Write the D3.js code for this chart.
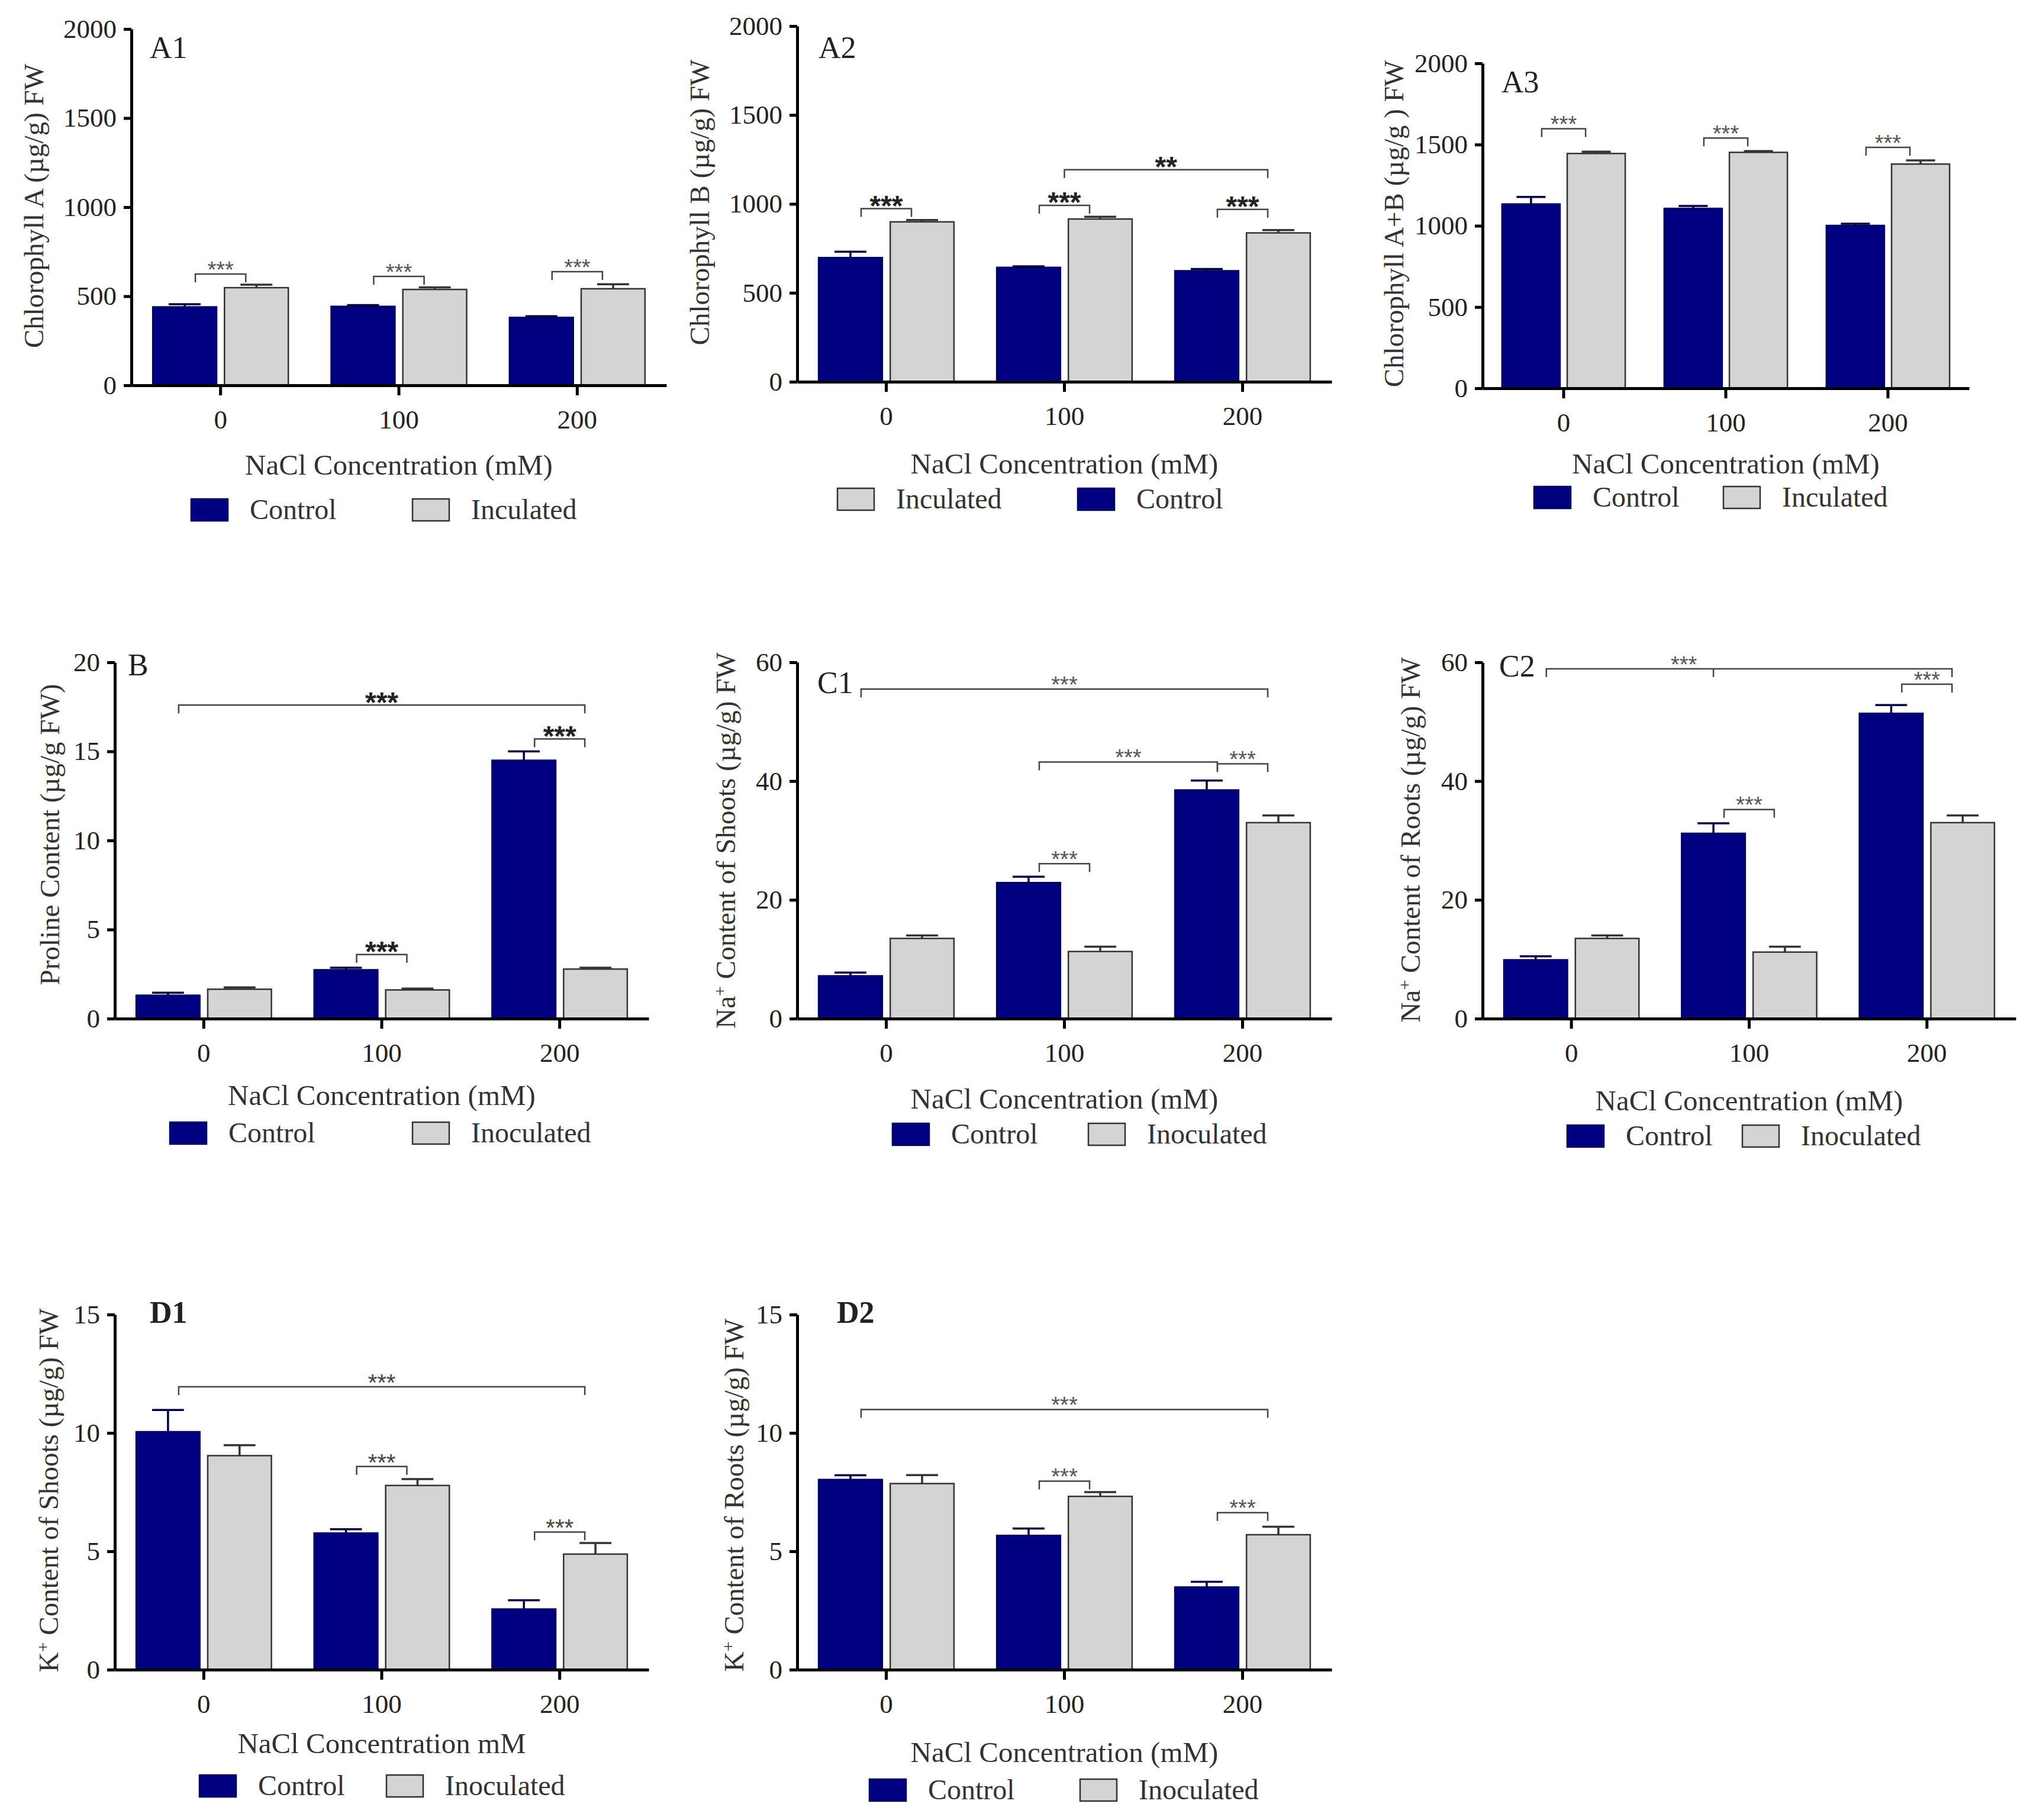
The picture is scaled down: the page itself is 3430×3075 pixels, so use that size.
<!DOCTYPE html>
<html>
<head>
<meta charset="utf-8">
<script src="https://cdn.jsdelivr.net/npm/d3@7"></script>
<style>
  body { margin: 0; background: #fff; }
  text { font-family: "Liberation Serif", "DejaVu Serif", serif; fill: #222; }
</style>
</head>
<body>
<svg id="figure"></svg>
<script>
var W = 3430;
var H = 3075;

var navy = "#000080";
var grey = "#d4d4d4";

// categories (NaCl mM) and the two treatments
var groups = ["0", "100", "200"];
var series = ["Control", "Inoculated"];

// ---- data ----
// A1 chlorophyll A
var a1Control = [440, 443, 381];
var a1ControlErr = [15, 7, 7];
var a1Inoc = [548, 538, 542];
var a1InocErr = [17, 12, 25];
var a1Ticks = [0, 500, 1000, 1500, 2000];
var a1Brackets = [
  {from: [0, 0], to: [0, 1], y: 625, label: "***"},
  {from: [1, 0], to: [1, 1], y: 611, label: "***"},
  {from: [2, 0], to: [2, 1], y: 638, label: "***"}
];

// A2 chlorophyll B
var a2Control = [698, 643, 624];
var a2ControlErr = [33, 6, 10];
var a2Inoc = [899, 915, 837];
var a2InocErr = [10, 13, 16];
var a2Ticks = [0, 500, 1000, 1500, 2000];
var a2Brackets = [
  {from: [0, 0], to: [0, 1], y: 973, label: "***"},
  {from: [1, 0], to: [1, 1], y: 992, label: "***"},
  {from: [2, 0], to: [2, 1], y: 969, label: "***"},
  {from: [1, null], to: [2, 1], y: 1192, label: "**"}
];

// A3 chlorophyll A+B
var a3Control = [1134, 1107, 1002];
var a3ControlErr = [44, 15, 11];
var a3Inoc = [1445, 1452, 1380];
var a3InocErr = [11, 8, 23];
var a3Ticks = [0, 500, 1000, 1500, 2000];
var a3Brackets = [
  {from: [0, 0], to: [0, 1], y: 1597, label: "***"},
  {from: [1, 0], to: [1, 1], y: 1540, label: "***"},
  {from: [2, 0], to: [2, 1], y: 1483, label: "***"}
];

// B proline
var bControl = [1.31, 2.74, 14.5];
var bControlErr = [0.14, 0.12, 0.5];
var bInoc = [1.65, 1.61, 2.78];
var bInocErr = [0.1, 0.08, 0.08];
var bTicks = [0, 5, 10, 15, 20];
var bBrackets = [
  {from: [0, 0], to: [2, 1], y: 17.6, label: "***"},
  {from: [1, 0], to: [1, 1], y: 3.6, label: "***"},
  {from: [2, 0], to: [2, 1], y: 15.7, label: "***"}
];

// C1 Na+ shoots
var c1Control = [7.2, 22.9, 38.5];
var c1ControlErr = [0.55, 1.0, 1.6];
var c1Inoc = [13.5, 11.3, 33.0];
var c1InocErr = [0.5, 0.8, 1.2];
var c1Ticks = [0, 20, 40, 60];
var c1Brackets = [
  {from: [0, 0], to: [2, 1], y: 55.5, label: "***"},
  {from: [1, 0], to: [2, 0], y: 43.2, label: "***"},
  {from: [2, 0], to: [2, 1], y: 42.9, label: "***"},
  {from: [1, 0], to: [1, 1], y: 26.1, label: "***"}
];

// C2 Na+ roots
var c2Control = [9.9, 31.2, 51.4];
var c2ControlErr = [0.6, 1.7, 1.4];
var c2Inoc = [13.5, 11.2, 33.0];
var c2InocErr = [0.5, 0.9, 1.2];
var c2Ticks = [0, 20, 40, 60];
var c2Brackets = [
  {from: [0, 0], mid: [1, 0], to: [2, 1], y: 58.9, label: "***"},
  {from: [2, 0], to: [2, 1], y: 56.3, label: "***"},
  {from: [1, 0], to: [1, 1], y: 35.2, label: "***"}
];

// D1 K+ shoots
var d1Control = [10.05, 5.77, 2.56];
var d1ControlErr = [0.92, 0.16, 0.37];
var d1Inoc = [9.04, 7.78, 4.88];
var d1InocErr = [0.44, 0.27, 0.47];
var d1Ticks = [0, 5, 10, 15];
var d1Brackets = [
  {from: [0, 0], to: [2, 1], y: 11.95, label: "***"},
  {from: [1, 0], to: [1, 1], y: 8.58, label: "***"},
  {from: [2, 0], to: [2, 1], y: 5.81, label: "***"}
];

// D2 K+ roots
var d2Control = [8.03, 5.67, 3.49];
var d2ControlErr = [0.18, 0.29, 0.22];
var d2Inoc = [7.86, 7.32, 5.7];
var d2InocErr = [0.36, 0.18, 0.34];
var d2Ticks = [0, 5, 10, 15];
var d2Brackets = [
  {from: [0, 0], to: [2, 1], y: 10.99, label: "***"},
  {from: [1, 0], to: [1, 1], y: 7.96, label: "***"},
  {from: [2, 0], to: [2, 1], y: 6.63, label: "***"}
];

// texts
var xTitle = "NaCl Concentration (mM)";
var xTitleD1 = "NaCl Concentration mM";
var legendInculated = [[0, "Control"], [1, "Inculated"]];
var legendA2 = [[1, "Inculated"], [0, "Control"]];
var legendInoculated = [[0, "Control"], [1, "Inoculated"]];

// ---- layout of each panel (pixels) ----
var panels = [
  {tag: "A1", c: a1Control, ce: a1ControlErr, v: a1Inoc, ve: a1InocErr, ticks: a1Ticks, br: a1Brackets,
   ylab: [["Chlorophyll A (µg/g) FW"]], xt: xTitle, legend: legendInculated, stars: "small",
   left: 222, right: 1126, top: 49, bottom: 651, ylx: 57, yly: 348, tx: 253, ty: 98,
   xtY: 802, lgY: 861, lgX: [323, 697]},
  {tag: "A2", c: a2Control, ce: a2ControlErr, v: a2Inoc, ve: a2InocErr, ticks: a2Ticks, br: a2Brackets,
   ylab: [["Chlorophyll B (µg/g) FW"]], xt: xTitle, legend: legendA2, stars: "bold",
   left: 1347, right: 2250, top: 44, bottom: 645, ylx: 1182, yly: 342, tx: 1383, ty: 98,
   xtY: 800, lgY: 843, lgX: [1415, 1821]},
  {tag: "A3", c: a3Control, ce: a3ControlErr, v: a3Inoc, ve: a3InocErr, ticks: a3Ticks, br: a3Brackets,
   ylab: [["Chlorophyll A+B (µg/g ) FW"]], xt: xTitle, legend: legendInculated, stars: "small",
   left: 2505, right: 3327, top: 107, bottom: 656, ylx: 2355, yly: 378, tx: 2537, ty: 156,
   xtY: 800, lgY: 840, lgX: [2592, 2912]},
  {tag: "B", c: bControl, ce: bControlErr, v: bInoc, ve: bInocErr, ticks: bTicks, br: bBrackets,
   ylab: [["Proline Content (µg/g FW)"]], xt: xTitle, legend: legendInoculated, stars: "bold",
   left: 194, right: 1096, top: 1119, bottom: 1721, ylx: 84, yly: 1410, tx: 216, ty: 1141,
   xtY: 1867, lgY: 1914, lgX: [287, 697]},
  {tag: "C1", c: c1Control, ce: c1ControlErr, v: c1Inoc, ve: c1InocErr, ticks: c1Ticks, br: c1Brackets,
   ylab: [["Na"], ["+", "sup"], [" Content of Shoots (µg/g) FW"]], xt: xTitle, legend: legendInoculated, stars: "small",
   left: 1347, right: 2250, top: 1119, bottom: 1721, ylx: 1226, yly: 1420, tx: 1381, ty: 1171,
   xtY: 1873, lgY: 1916, lgX: [1508, 1839]},
  {tag: "C2", c: c2Control, ce: c2ControlErr, v: c2Inoc, ve: c2InocErr, ticks: c2Ticks, br: c2Brackets,
   ylab: [["Na"], ["+", "sup"], [" Content of Roots (µg/g) FW"]], xt: xTitle, legend: legendInoculated, stars: "small",
   left: 2505, right: 3406, top: 1119, bottom: 1721, ylx: 2383, yly: 1419, tx: 2533, ty: 1143,
   xtY: 1876, lgY: 1919, lgX: [2648, 2944]},
  {tag: "D1", c: d1Control, ce: d1ControlErr, v: d1Inoc, ve: d1InocErr, ticks: d1Ticks, br: d1Brackets,
   ylab: [["K"], ["+", "sup"], [" Content of Shoots (µg/g) FW"]], xt: xTitleD1, legend: legendInoculated, stars: "mid",
   left: 194, right: 1096, top: 2221, bottom: 2821, ylx: 82, yly: 2518, tx: 253, ty: 2235,
   xtY: 2962, lgY: 3017, lgX: [337, 653]},
  {tag: "D2", c: d2Control, ce: d2ControlErr, v: d2Inoc, ve: d2InocErr, ticks: d2Ticks, br: d2Brackets,
   ylab: [["K"], ["+", "sup"], [" Content of Roots (µg/g) FW"]], xt: xTitle, legend: legendInoculated, stars: "small",
   left: 1347, right: 2250, top: 2221, bottom: 2821, ylx: 1240, yly: 2526, tx: 1414, ty: 2235,
   xtY: 2977, lgY: 3024, lgX: [1469, 1825]}
];

var starStyle = {
  small: {size: 38, weight: "normal", color: "#555"},
  mid: {size: 40, weight: "normal", color: "#444"},
  bold: {size: 48, weight: "bold", color: "#222"}
};

var svg = d3.select('#figure')
  .attr('width', W)
  .attr('height', H);

svg.append('rect')
  .attr('width', W)
  .attr('height', H)
  .attr('fill', '#fff');


function drawPanel(p) {
  var g = svg.append('g').attr('class', 'panel-' + p.tag);

  var x0 = d3.scaleBand()
    .domain(groups)
    .range([p.left, p.right])
    .paddingInner(0.24)
    .paddingOuter(0.12);

  var x1 = d3.scaleBand()
    .domain([0, 1])
    .range([0, x0.bandwidth()])
    .paddingInner(0.11);

  var y = d3.scaleLinear()
    .domain([0, p.ticks[p.ticks.length - 1]])
    .range([p.bottom, p.top]);

  var rows = groups.map(function (name, i) {
    return {name: name, vals: [
      {s: 0, v: p.c[i], e: p.ce[i]},
      {s: 1, v: p.v[i], e: p.ve[i]}
    ]};
  });

  var grp = g.selectAll('.grp')
    .data(rows)
  .enter().append('g')
    .attr('class', 'grp')
    .attr('transform', function (d) { return 'translate(' + x0(d.name) + ',0)' });

  var cell = grp.selectAll('.cell')
    .data(function (d) { return d.vals })
  .enter().append('g')
    .attr('class', 'cell');

  cell.append('rect')
    .attr('x', function (d) { return x1(d.s) })
    .attr('y', function (d) { return y(d.v) })
    .attr('width', x1.bandwidth())
    .attr('height', function (d) { return y(0) - y(d.v) })
    .attr('fill', function (d) { return d.s === 0 ? navy : grey })
    .attr('stroke', function (d) { return d.s === 0 ? '#00005a' : '#333' })
    .attr('stroke-width', 2.5);

  // error bars (upper half only)
  var capW = x1.bandwidth() * 0.5;
  cell.append('line')
    .attr('x1', function (d) { return x1(d.s) + x1.bandwidth() / 2 })
    .attr('x2', function (d) { return x1(d.s) + x1.bandwidth() / 2 })
    .attr('y1', function (d) { return y(d.v) })
    .attr('y2', function (d) { return y(d.v + d.e) })
    .attr('stroke', function (d) { return d.s === 0 ? '#000040' : '#333' })
    .attr('stroke-width', 3.5);
  cell.append('line')
    .attr('x1', function (d) { return x1(d.s) + x1.bandwidth() / 2 - capW / 2 })
    .attr('x2', function (d) { return x1(d.s) + x1.bandwidth() / 2 + capW / 2 })
    .attr('y1', function (d) { return y(d.v + d.e) })
    .attr('y2', function (d) { return y(d.v + d.e) })
    .attr('stroke', function (d) { return d.s === 0 ? '#000040' : '#333' })
    .attr('stroke-width', 3.5);

  // axes
  var yAxis = g.append('g')
    .attr('transform', 'translate(' + p.left + ',0)')
    .call(d3.axisLeft(y).tickValues(p.ticks).tickFormat(d3.format('d'))
      .tickSize(13).tickPadding(12).tickSizeOuter(0));
  var xAxis = g.append('g')
    .attr('transform', 'translate(0,' + p.bottom + ')')
    .call(d3.axisBottom(x0).tickSize(17).tickPadding(24).tickSizeOuter(0));

  [yAxis, xAxis].forEach(function (ax) {
    ax.select('.domain').attr('stroke', '#000').attr('stroke-width', 5);
    ax.selectAll('.tick line').attr('stroke', '#000').attr('stroke-width', 5);
    ax.selectAll('.tick text')
      .attr('font-family', '"Liberation Serif", "DejaVu Serif", serif')
      .attr('font-size', 45)
      .attr('fill', '#333');
  });

  // significance brackets: legs sit a little inside the bar centre
  var inset = 18;
  function bx(spec, shift) {
    var base = x0(groups[spec[0]]);
    var mid = base + x0.bandwidth() / 2;
    if (spec[1] === null) return mid;
    var c = base + x1(spec[1]) + x1.bandwidth() / 2;
    if (!shift) return c;
    return c + (mid > c ? inset : -inset);
  }
  var st = starStyle[p.stars];
  var drop = 14;
  p.br.forEach(function (b) {
    var xa = bx(b.from, true), xb = bx(b.to, true), yy = y(b.y);
    var path = 'M' + xa + ',' + (yy + drop) + 'V' + yy + 'H' + xb + 'V' + (yy + drop);
    var lx = (xa + xb) / 2;
    if (b.mid) {
      var xm = bx(b.mid, false);
      path += 'M' + xm + ',' + yy + 'V' + (yy + drop);
      lx = xm - 50;
    }
    g.append('path')
      .attr('d', path)
      .attr('fill', 'none')
      .attr('stroke', '#444')
      .attr('stroke-width', 2.5);
    g.append('text')
      .attr('x', lx)
      .attr('y', yy - 16 + 0.57 * st.size)
      .attr('text-anchor', 'middle')
      .style('font-family', '"Liberation Sans", Arial, sans-serif')
      .attr('font-size', st.size)
      .attr('font-weight', st.weight)
      .style('fill', st.color)
      .text(b.label);
  });

  // panel tag
  g.append('text')
    .attr('x', p.tx)
    .attr('y', p.ty)
    .attr('font-size', 52)
    .attr('font-weight', p.tag.charAt(0) === 'D' ? 'bold' : 'normal')
    .text(p.tag);

  // y axis title
  var yl = g.append('text')
    .attr('transform', 'translate(' + p.ylx + ',' + p.yly + ') rotate(-90)')
    .attr('text-anchor', 'middle')
    .attr('dy', '0.35em')
    .attr('font-size', 47)
    .style('fill', '#333');
  p.ylab.forEach(function (part) {
    var ts = yl.append('tspan').text(part[0]);
    if (part[1] === 'sup') {
      ts.attr('font-size', 30).attr('baseline-shift', 'super');
    }
  });

  // x axis title
  g.append('text')
    .attr('x', x0(groups[1]) + x0.bandwidth() / 2)
    .attr('y', p.xtY)
    .attr('text-anchor', 'middle')
    .attr('font-size', 49)
    .style('fill', '#333')
    .text(p.xt);

  // legend
  p.legend.forEach(function (item, i) {
    var lx = p.lgX[i];
    g.append('rect')
      .attr('x', lx)
      .attr('y', p.lgY - 18)
      .attr('width', 62)
      .attr('height', 37)
      .attr('fill', item[0] === 0 ? navy : grey)
      .attr('stroke', item[0] === 0 ? '#00005a' : '#333')
      .attr('stroke-width', 2.5);
    g.append('text')
      .attr('x', lx + 99)
      .attr('y', p.lgY + 16)
      .attr('font-size', 48)
      .style('fill', '#333')
      .text(item[1]);
  });
}

panels.forEach(drawPanel);
</script>
</body>
</html>
